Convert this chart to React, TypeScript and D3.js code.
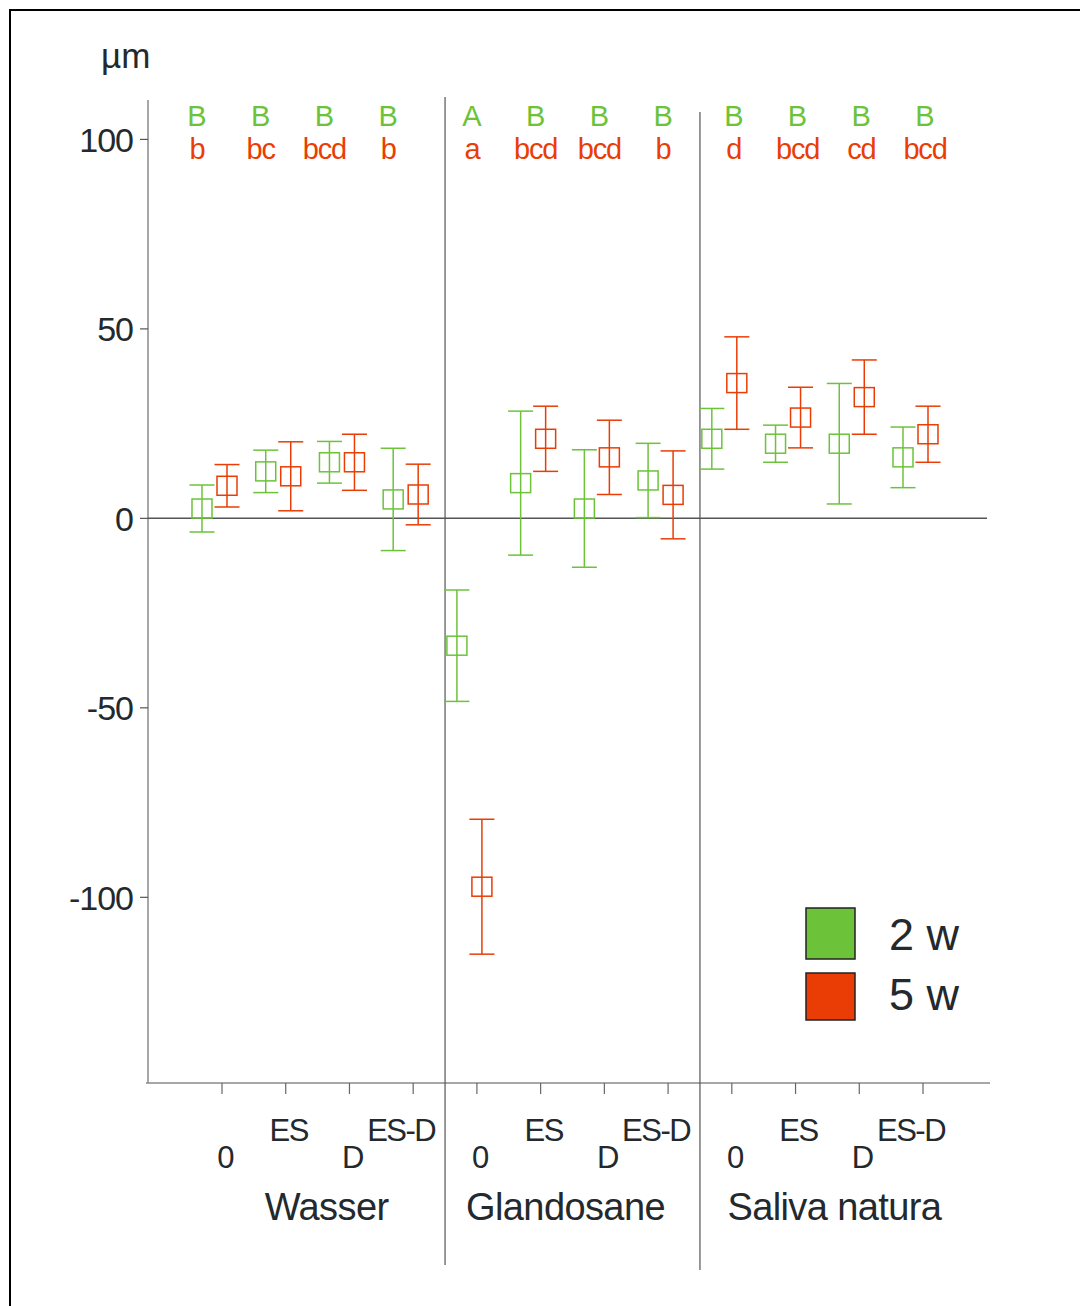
import * as d3 from "d3";

const groups = ["Wasser", "Glandosane", "Saliva natura"];
const treatments = ["0", "ES", "D", "ES-D"];

// one value per group x treatment, in reading order
const mean2w = [2.6, 12.4, 14.8, 5.0, -33.6, 9.3, 2.6, 10.0, 21.0, 19.7, 19.7, 16.1];
const err2w = [6.2, 5.6, 5.5, 13.5, 14.7, 19.0, 15.5, 9.8, 8.0, 4.9, 15.9, 8.0];
const mean5w = [8.6, 11.1, 14.8, 6.3, -97.2, 21.0, 16.1, 6.2, 35.7, 26.6, 32.0, 22.2];
const err5w = [5.6, 9.1, 7.4, 8.0, 17.8, 8.6, 9.8, 11.6, 12.2, 8.0, 9.8, 7.4];

const letters2w = ["B", "B", "B", "B", "A", "B", "B", "B", "B", "B", "B", "B"];
const letters5w = ["b", "bc", "bcd", "b", "a", "bcd", "bcd", "b", "d", "bcd", "cd", "bcd"];

const yTicks = [100, 50, 0, -50, -100];
const legendLabels = ["2 w", "5 w"];

const GREEN = "#6cc33a";
const RED = "#e93d05";
const TEXT = "#23292c";
const FONT = "'Liberation Sans', Arial, Helvetica, sans-serif";

const width = 1080;
const height = 1306;
const plot = { left: 148, right: 990, top: 100, bottom: 1083 };

export default function App() {
  const keys = groups.flatMap((g) => treatments.map((t) => `${g}|${t}`));

  const x = d3.scalePoint<string>().domain(keys).range([222, 923]);
  const y = d3.scaleLinear().domain([-149, 110.4]).range([plot.bottom, plot.top]);

  const dodge = { w2: -20, w5: 5 };
  const letterShift = [-25, -5, 2];
  const groupShift = [9, -7, 7];
  const boxW = 20;
  const boxH = 19;
  const capW = 25;

  const series = [
    { name: "2w", mean: mean2w, err: err2w, color: GREEN, dx: dodge.w2 },
    { name: "5w", mean: mean5w, err: err5w, color: RED, dx: dodge.w5 },
  ];

  // separators halfway between groups
  const separators = groups.slice(1).map((g, i) => {
    const last = x(`${groups[i]}|${treatments[treatments.length - 1]}`) || 0;
    const first = x(`${g}|${treatments[0]}`) || 0;
    return (last + first) / 2;
  });

  return (
    <svg
      width={width}
      height={height}
      style={{ position: "absolute", left: 0, top: 0, background: "#fff" }}
      fontFamily={FONT}
    >
      <rect x={10} y={10} width={1100} height={1320} fill="none" stroke="#000" strokeWidth={2} />

      {/* unit label */}
      <text x={101} y={68} fontSize={35} fill={TEXT}>
        µm
      </text>

      {/* Y axis */}
      <line x1={plot.left} x2={plot.left} y1={plot.top} y2={plot.bottom} stroke="#8a8a8a" strokeWidth={1.5} />
      {yTicks.map((t) => (
        <g key={t} transform={`translate(0, ${y(t)})`}>
          <line x1={plot.left - 8} x2={plot.left} stroke="#555" strokeWidth={1.2} />
          <text x={133} dy="0.36em" textAnchor="end" fontSize={34} fill={TEXT} letterSpacing={-1}>
            {t}
          </text>
        </g>
      ))}

      {/* X axis */}
      <line x1={plot.left - 2} x2={plot.right} y1={plot.bottom} y2={plot.bottom} stroke="#8a8a8a" strokeWidth={1.5} />
      {keys.map((k) => (
        <line key={k} x1={x(k)} x2={x(k)} y1={plot.bottom} y2={plot.bottom + 11} stroke="#666" strokeWidth={1.2} />
      ))}

      {/* zero line */}
      <line x1={plot.left} x2={987} y1={y(0)} y2={y(0)} stroke="#555" strokeWidth={1.5} />

      {/* group separators */}
      {separators.map((sx, i) => (
        <line
          key={i}
          x1={sx}
          x2={sx}
          y1={i === 0 ? 97 : 112}
          y2={i === 0 ? 1265 : 1270}
          stroke="#555"
          strokeWidth={1.2}
        />
      ))}

      {/* error bars and mean squares */}
      {series.map((s) =>
        keys.map((k, i) => {
          const cx = (x(k) || 0) + s.dx;
          const yMid = y(s.mean[i]);
          const yHi = y(s.mean[i] + s.err[i]);
          const yLo = y(s.mean[i] - s.err[i]);
          return (
            <g key={`${s.name}-${k}`} stroke={s.color} strokeWidth={1.5} fill="none">
              <line x1={cx} x2={cx} y1={yHi} y2={yLo} />
              <line x1={cx - capW / 2} x2={cx + capW / 2} y1={yHi} y2={yHi} />
              <line x1={cx - capW / 2} x2={cx + capW / 2} y1={yLo} y2={yLo} />
              <rect x={cx - boxW / 2} y={yMid - boxH / 2} width={boxW} height={boxH} />
            </g>
          );
        })
      )}

      {/* significance letters: 2 w above, 5 w below */}
      {keys.map((k, i) => {
        const gi = Math.floor(i / treatments.length);
        const lx = (x(k) || 0) + letterShift[gi];
        return (
          <g key={`let-${k}`} fontSize={29} textAnchor="middle">
            <text x={lx} y={126} fill={GREEN}>
              {letters2w[i]}
            </text>
            <text x={lx} y={159} fill={RED} letterSpacing={-1.2}>
              {letters5w[i]}
            </text>
          </g>
        );
      })}

      {/* treatment labels, staggered */}
      {keys.map((k, i) => {
        const ti = i % treatments.length;
        return (
          <text
            key={`tl-${k}`}
            x={(x(k) || 0) + (ti === 3 ? -12 : 3)}
            y={ti % 2 === 1 ? 1141 : 1168}
            textAnchor="middle"
            fontSize={31}
            fill={TEXT}
            letterSpacing={-1.5}
          >
            {treatments[ti]}
          </text>
        );
      })}

      {/* group labels */}
      {groups.map((g, gi) => {
        const a = x(`${g}|${treatments[0]}`) || 0;
        const b = x(`${g}|${treatments[treatments.length - 1]}`) || 0;
        return (
          <text
            key={g}
            x={(a + b) / 2 + groupShift[gi]}
            y={1220}
            textAnchor="middle"
            fontSize={38}
            fill={TEXT}
            letterSpacing={-0.6}
          >
            {g}
          </text>
        );
      })}

      {/* legend */}
      {legendLabels.map((l, i) => (
        <g key={l} transform={`translate(806, ${908 + i * 65})`}>
          <rect width={49} height={i === 0 ? 51 : 47} fill={i === 0 ? GREEN : RED} stroke="#222" strokeWidth={1.5} />
          <text x={83} y={i === 0 ? 42 : 37} fontSize={45} fill={TEXT}>
            {l}
          </text>
        </g>
      ))}
    </svg>
  );
}
